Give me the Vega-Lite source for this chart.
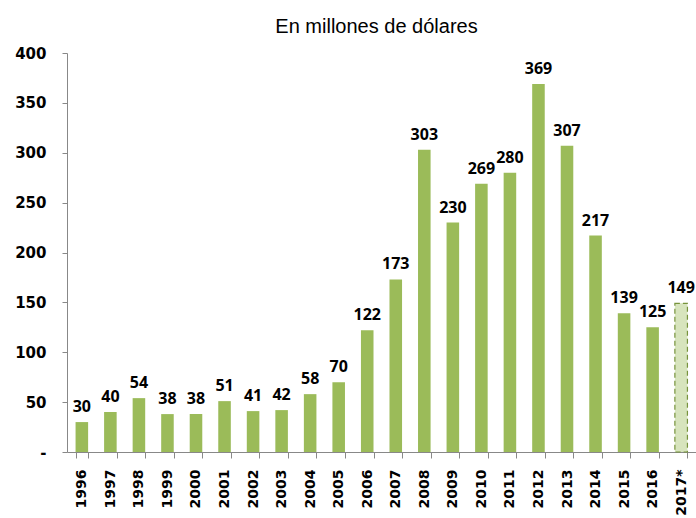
{
  "$schema": "https://vega.github.io/schema/vega-lite/v6.json",
  "autosize": {"type": "none"},
  "width": 629,
  "height": 399,
  "padding": {"left": 67, "top": 53, "right": 0, "bottom": 66},
  "background": "white",
  "title": {"text": "En millones de dólares", "font": "Liberation Sans", "fontSize": 20, "fontWeight": "normal", "color": "#000000", "offset": 9, "anchor": "middle", "dx": -5},
  "config": {"view": {"stroke": null}},
  "data": {"values": [
    {"year": "1996", "value": 30, "type": "real"},
    {"year": "1997", "value": 40, "type": "real"},
    {"year": "1998", "value": 54, "type": "real"},
    {"year": "1999", "value": 38, "type": "real"},
    {"year": "2000", "value": 38, "type": "real"},
    {"year": "2001", "value": 51, "type": "real"},
    {"year": "2002", "value": 41, "type": "real"},
    {"year": "2003", "value": 42, "type": "real"},
    {"year": "2004", "value": 58, "type": "real"},
    {"year": "2005", "value": 70, "type": "real"},
    {"year": "2006", "value": 122, "type": "real"},
    {"year": "2007", "value": 173, "type": "real"},
    {"year": "2008", "value": 303, "type": "real"},
    {"year": "2009", "value": 230, "type": "real"},
    {"year": "2010", "value": 269, "type": "real"},
    {"year": "2011", "value": 280, "type": "real"},
    {"year": "2012", "value": 369, "type": "real"},
    {"year": "2013", "value": 307, "type": "real"},
    {"year": "2014", "value": 217, "type": "real"},
    {"year": "2015", "value": 139, "type": "real"},
    {"year": "2016", "value": 125, "type": "real"},
    {"year": "2017*", "value": 149, "type": "est"}
  ]},
  "encoding": {
    "x": {"field": "year", "type": "nominal", "sort": null,
      "scale": {"paddingInner": 0.56, "paddingOuter": 0.3},
      "axis": {"title": null, "labelAngle": -90, "labelAlign": "right", "labelBaseline": "middle", "labelFont": "DejaVu Sans", "labelFontWeight": "bold", "labelFontSize": 14, "labelColor": "#000000", "labelPadding": 11, "domainColor": "#888888", "tickColor": "#888888", "tickSize": 6, "tickBand": "extent", "ticks": true}},
    "y": {"field": "value", "type": "quantitative",
      "scale": {"domain": [0, 400]},
      "axis": {"title": null, "values": [0, 50, 100, 150, 200, 250, 300, 350, 400], "labelExpr": "datum.value == 0 ? '-' : datum.label", "grid": false, "labelFont": "DejaVu Sans", "labelFontWeight": "bold", "labelFontSize": 15, "labelColor": "#000000", "labelPadding": 16, "domainColor": "#888888", "tickColor": "#888888", "tickSize": 5}}
  },
  "layer": [
    {"mark": {"type": "bar"},
      "encoding": {
        "color": {"field": "type", "type": "nominal", "scale": {"domain": ["real", "est"], "range": ["#9BBB59", "#D7E4BD"]}, "legend": null},
        "stroke": {"condition": {"test": "datum.type == 'est'", "value": "#77933C"}, "value": null},
        "strokeDash": {"condition": {"test": "datum.type == 'est'", "value": [5, 3]}, "value": [1, 0]},
        "strokeWidth": {"value": 1.2}
      }},
    {"mark": {"type": "text", "baseline": "bottom", "dy": -7, "font": "Open Sans", "fontWeight": "bold", "fontSize": 16, "color": "#000000"},
      "encoding": {"text": {"field": "value", "type": "quantitative"}}}
  ]
}
